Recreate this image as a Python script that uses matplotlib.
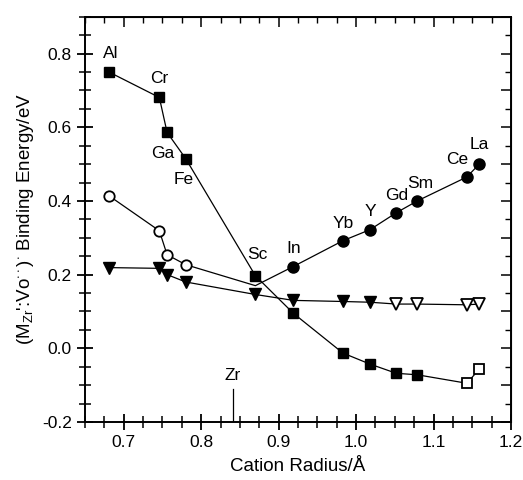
import matplotlib
matplotlib.use("Agg")
import matplotlib.pyplot as plt
from matplotlib.ticker import MultipleLocator

plt.rcParams['font.family'] = ['Liberation Sans', 'DejaVu Sans']
plt.rcParams['mathtext.fontset'] = 'custom'
plt.rcParams['mathtext.rm'] = 'Liberation Sans'
plt.rcParams['mathtext.it'] = 'Liberation Sans'

# cation radii (Å)
elements = ['Al', 'Cr', 'Ga', 'Fe', 'Sc', 'In', 'Yb', 'Y', 'Gd', 'Sm', 'Ce', 'La']
radius = [0.681, 0.746, 0.756, 0.780, 0.870, 0.919, 0.983, 1.018, 1.052, 1.079, 1.143, 1.159]

# squares (filled, last two open)
sq_energy = [0.750, 0.681, 0.586, 0.515, 0.197, 0.095, -0.013, -0.043, -0.068, -0.072, -0.095, -0.057]
# circles (open Al..Fe, filled Sc..La)
ci_energy = [0.414, 0.319, 0.254, 0.227, 0.170, 0.222, 0.292, 0.322, 0.368, 0.400, 0.465, 0.500]
# down triangles (filled Al..Y, open Gd..La)
tr_energy = [0.219, 0.217, 0.200, 0.180, 0.146, 0.130, 0.127, 0.125, 0.120, 0.120, 0.118, 0.120]

label_x = [0.683, 0.746, 0.751, 0.777, 0.873, 0.919, 0.983, 1.018, 1.053, 1.083, 1.131, 1.159]
label_y = [0.800, 0.732, 0.530, 0.457, 0.254, 0.270, 0.338, 0.372, 0.415, 0.447, 0.513, 0.552]

zr_radius = 0.841
zr_top = -0.11

fig = plt.figure(figsize=(5.23, 4.8), dpi=100)
ax = fig.add_axes([0.1625, 0.121, 0.8145, 0.844])

lw = 0.9
ms = 7.5
ax.plot(radius, ci_energy, '-', color='black', lw=lw, zorder=2)
ax.plot(radius, tr_energy, '-', color='black', lw=lw, zorder=2)
ax.plot(radius, sq_energy, '-', color='black', lw=lw, zorder=2)

# circles
ax.plot(radius[:4], ci_energy[:4], 'o', mfc='white', mec='black', mew=1.3, ms=ms, zorder=3)
ax.plot(radius[5:], ci_energy[5:], 'o', mfc='black', mec='black', ms=ms + 0.5, zorder=3)
# triangles
ax.plot(radius[:8], tr_energy[:8], 'v', mfc='black', mec='black', ms=ms + 1, zorder=3)
ax.plot(radius[8:], tr_energy[8:], 'v', mfc='white', mec='black', mew=1.3, ms=ms + 1, zorder=3)
# squares
ax.plot(radius[:10], sq_energy[:10], 's', mfc='black', mec='black', ms=ms, zorder=4)
ax.plot(radius[10:], sq_energy[10:], 's', mfc='white', mec='black', mew=1.3, ms=ms, zorder=4)

for name, x, y in zip(elements, label_x, label_y):
    ax.text(x, y, name, ha='center', va='center', fontsize=12.5)

ax.plot([zr_radius, zr_radius], [-0.2, zr_top], color='black', lw=0.9)
ax.text(zr_radius, zr_top + 0.035, 'Zr', ha='center', va='center', fontsize=12.5)

ax.set_xlim(0.65, 1.2)
ax.set_ylim(-0.2, 0.9)
ax.xaxis.set_minor_locator(MultipleLocator(0.025))
ax.yaxis.set_minor_locator(MultipleLocator(0.05))
ax.set_yticks([-0.2, 0.0, 0.2, 0.4, 0.6, 0.8])
ax.set_yticklabels(['-0.2', '0.0', '0.2', '0.4', '0.6', '0.8'])
ax.set_xticks([0.7, 0.8, 0.9, 1.0, 1.1, 1.2])
ax.set_xticklabels(['0.7', '0.8', '0.9', '1.0', '1.1', '1.2'])

ax.tick_params(which='major', direction='inout', length=12, width=1.3, labelsize=12.5)
ax.tick_params(which='minor', direction='inout', length=8, width=1.1)
for s in ax.spines.values():
    s.set_linewidth(1.4)

top = ax.secondary_xaxis('top')
top.xaxis.set_major_locator(MultipleLocator(0.1))
top.xaxis.set_minor_locator(MultipleLocator(0.025))
top.tick_params(which='major', direction='in', length=7, width=1.1, labeltop=False)
top.tick_params(which='minor', direction='in', length=4, width=1.0)
right = ax.secondary_yaxis('right')
right.yaxis.set_major_locator(MultipleLocator(0.1))
right.yaxis.set_minor_locator(MultipleLocator(0.05))
right.tick_params(which='major', direction='in', length=7, width=1.1, labelright=False)
right.tick_params(which='minor', direction='in', length=4, width=1.0)

ax.set_xlabel('Cation Radius/Å', fontsize=13.5, labelpad=6)
ax.set_ylabel("(M$_{Zr}$':Vo$^{\\cdot\\cdot}$)$^{\\cdot}$ Binding Energy/eV", fontsize=13.5, labelpad=4)

fig.savefig('out.png', dpi=100)
